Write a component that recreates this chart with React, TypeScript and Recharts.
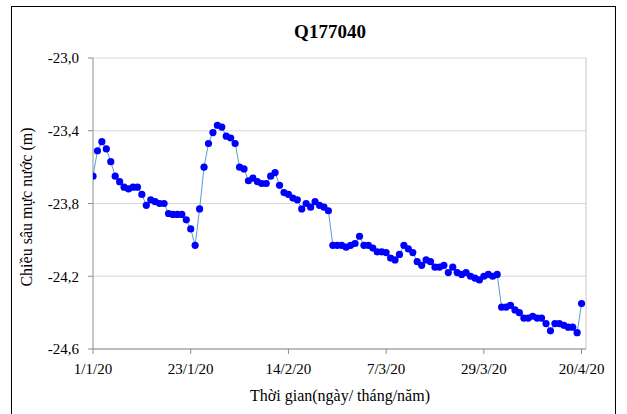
import { CartesianGrid, Line, LineChart, ReferenceLine, XAxis, YAxis } from "recharts";

// Q177040 - daily groundwater depth, 1/1/2020 .. 20/4/2020
const depth = [
  -23.65, -23.51, -23.46, -23.5, -23.57, -23.65, -23.68, -23.71, -23.72, -23.71,
  -23.71, -23.75, -23.81, -23.78, -23.79, -23.8, -23.8, -23.855, -23.86, -23.86,
  -23.86, -23.89, -23.94, -24.03, -23.83, -23.6, -23.47, -23.41, -23.37, -23.38,
  -23.43, -23.44, -23.47, -23.6, -23.61, -23.675, -23.66, -23.68, -23.69, -23.69,
  -23.65, -23.63, -23.7, -23.74, -23.75, -23.77, -23.78, -23.83, -23.8, -23.82,
  -23.79, -23.81, -23.82, -23.84, -24.03, -24.03, -24.03, -24.04, -24.03, -24.02,
  -23.98, -24.03, -24.03, -24.045, -24.066, -24.066, -24.07, -24.1, -24.11, -24.08,
  -24.03, -24.05, -24.07, -24.12, -24.14, -24.11, -24.12, -24.15, -24.15, -24.14,
  -24.18, -24.15, -24.18, -24.19, -24.18, -24.2, -24.21, -24.22, -24.2, -24.19,
  -24.2, -24.19, -24.37, -24.37, -24.36, -24.385, -24.4, -24.43, -24.43, -24.42,
  -24.43, -24.43, -24.46, -24.5, -24.46, -24.46, -24.47, -24.48, -24.48, -24.51,
  -24.35,
];

const tickDays = [0, 22, 44, 66, 88, 110];
const tickLabels = ["1/1/20", "23/1/20", "14/2/20", "7/3/20", "29/3/20", "20/4/20"];
const yTicks = [-23.0, -23.4, -23.8, -24.2, -24.6];

const data = depth.map((v, i) => ({ day: i, depth: v }));

const FONT = '"Liberation Serif", "Times New Roman", serif';

function XTick({ x, y, payload }: any) {
  const label = tickLabels[tickDays.indexOf(payload.value)] ?? "";
  return (
    <text x={x} y={y} dy="0.75em" textAnchor="middle" fill="#000" style={{ fontFamily: FONT, fontSize: 15 }}>
      {label}
    </text>
  );
}

function YTick({ x, y, payload }: any) {
  return (
    <text x={x} y={y} dy="0.35em" textAnchor="end" fill="#000" style={{ fontFamily: FONT, fontSize: 15 }}>
      {Number(payload.value).toFixed(1).replace(".", ",")}
    </text>
  );
}

export default function App() {
  return (
    <div
      style={{
        position: "absolute",
        left: 0,
        top: 0,
        width: 627,
        height: 414,
        overflow: "hidden",
        background: "#fff",
        fontFamily: FONT,
      }}
    >
      <div
        style={{
          position: "absolute",
          left: 11,
          top: 6,
          width: 605,
          height: 420,
          border: "1.5px solid #000",
          boxSizing: "border-box",
        }}
      />
      <div
        style={{
          position: "absolute",
          left: 0,
          width: 660,
          top: 21,
          textAlign: "center",
          fontSize: 19,
          fontWeight: "bold",
          color: "#000",
        }}
      >
        Q177040
      </div>
      <div
        style={{
          position: "absolute",
          left: 27,
          top: 207,
          transform: "translate(-50%, -50%) rotate(-90deg)",
          whiteSpace: "nowrap",
          fontSize: 16,
          color: "#000",
        }}
      >
        Chiều sâu mực nước (m)
      </div>
      <div
        style={{
          position: "absolute",
          left: 0,
          width: 680,
          top: 387,
          textAlign: "center",
          fontSize: 16,
          color: "#000",
        }}
      >
        Thời gian(ngày/ tháng/năm)
      </div>
      <div style={{ position: "absolute", left: 0, top: 0 }}>
        <LineChart
          width={627}
          height={414}
          data={data}
          margin={{ top: 58, right: 41, bottom: 35, left: 33 }}
        >
          <CartesianGrid vertical={false} stroke="#d9d9d9" strokeWidth={1.2} />
          <XAxis
            type="number"
            dataKey="day"
            domain={[0, 111]}
            ticks={tickDays}
            height={30}
            stroke="#8c8c8c"
            tickSize={5}
            tickMargin={9}
            tick={<XTick />}
            allowDataOverflow
          />
          <YAxis
            domain={[-24.6, -23.0]}
            ticks={yTicks}
            width={60}
            stroke="#8c8c8c"
            tickSize={5}
            tickMargin={9}
            tick={<YTick />}
            allowDataOverflow
          />
          <ReferenceLine x={111} stroke="#c8c8c8" />
          <Line
            type="linear"
            dataKey="depth"
            stroke="#5b9bd5"
            strokeWidth={1}
            dot={{ r: 3.6, fill: "#0000ff", stroke: "none" }}
            activeDot={false}
            isAnimationActive={false}
          />
        </LineChart>
      </div>
    </div>
  );
}
